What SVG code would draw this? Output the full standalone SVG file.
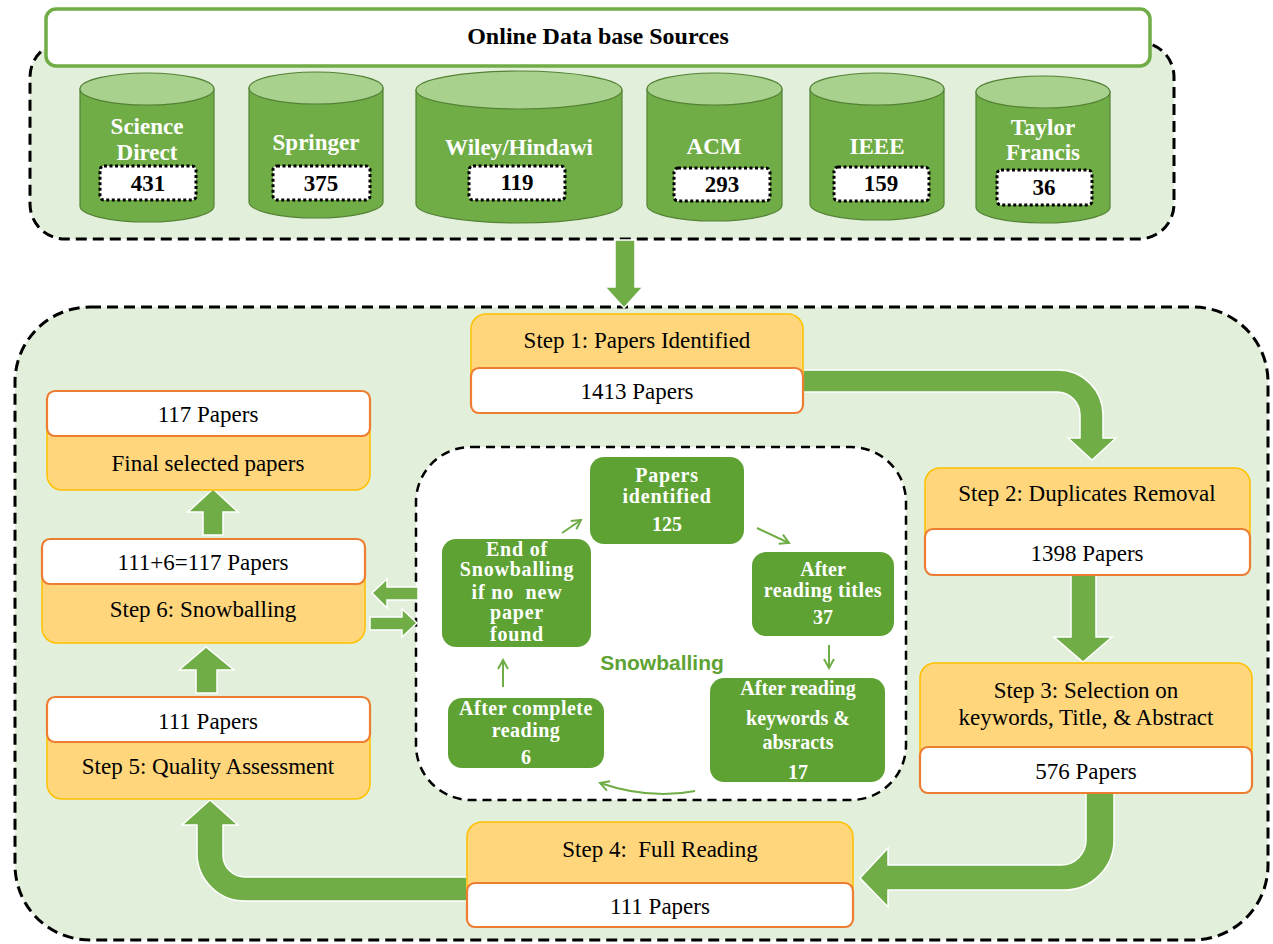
<svg xmlns="http://www.w3.org/2000/svg" width="1273" height="944" viewBox="0 0 1273 944">
<defs>
<style>
.panel{fill:#e2efda;stroke:#000;stroke-width:3;stroke-dasharray:11 6}
.inner{fill:#fff;stroke:#000;stroke-width:2.5;stroke-dasharray:9 6}
.cylb{fill:#70ad47;stroke:#548235;stroke-width:1.2}
.cylt{fill:#a9d18e;stroke:#548235;stroke-width:1.2}
.clab{font-family:"Liberation Serif",serif;font-weight:bold;font-size:23px;fill:#fff;text-anchor:middle}
.numbox{fill:#fff;stroke:#000;stroke-width:3;stroke-dasharray:3 2.5}
.num{font-family:"Liberation Serif",serif;font-weight:bold;font-size:23px;fill:#000;text-anchor:middle}
.yel{fill:#ffd67c;stroke:#ffc000;stroke-width:1.5}
.wht{fill:#fff;stroke:#ed7d31;stroke-width:2.2}
.st{font-family:"Liberation Serif",serif;font-size:23px;fill:#000;text-anchor:middle}
.big{fill:#70ad47;stroke:#fff;stroke-width:1.5}
.sn{fill:#5ea234}
.snt{font-family:"Liberation Serif",serif;font-weight:bold;font-size:20px;fill:#fff;text-anchor:middle}
.thin{fill:none;stroke:#70ad47;stroke-width:2;marker-end:url(#oa)}
</style>
<marker id="oa" viewBox="0 0 12 12" refX="10" refY="6" markerWidth="12" markerHeight="12" markerUnits="userSpaceOnUse" orient="auto">
<path d="M1,1 L10,6 L1,11" fill="none" stroke="#70ad47" stroke-width="2"/>
</marker>
</defs>
<rect width="1273" height="944" fill="#fff"/>

<rect class="panel" x="30" y="42" width="1144" height="197" rx="35"/>
<rect class="panel" x="15" y="307" width="1253" height="633" rx="75"/>
<rect class="inner" x="416" y="447" width="490" height="353" rx="55"/>

<g id="title">
<rect x="46" y="9" width="1104" height="57" rx="10" fill="#fff" stroke="#70ad47" stroke-width="3.5"/>
<text x="598" y="44" font-family="Liberation Serif, serif" font-weight="bold" font-size="24" text-anchor="middle">Online Data base Sources</text>
</g>

<g id="db-sciencedirect">
<path class="cylb" d="M80,89 L80,206 A67,16 0 0 0 214,206 L214,89 Z"/>
<ellipse class="cylt" cx="147" cy="89" rx="67" ry="16"/>
<text class="clab" x="147" y="134">Science</text>
<text class="clab" x="147" y="160">Direct</text>
<rect class="numbox" x="100" y="166" width="96" height="34" rx="4"/>
<text class="num" x="148" y="191">431</text>
</g>
<g id="db-springer">
<path class="cylb" d="M249,88 L249,202 A67,16 0 0 0 383,202 L383,88 Z"/>
<ellipse class="cylt" cx="316" cy="88" rx="67" ry="16"/>
<text class="clab" x="316" y="150">Springer</text>
<rect class="numbox" x="273" y="166" width="97" height="34" rx="4"/>
<text class="num" x="321" y="191">375</text>
</g>
<g id="db-wiley">
<path class="cylb" d="M416,90 L416,204 A103,19 0 0 0 622,204 L622,90 Z"/>
<ellipse class="cylt" cx="519" cy="90" rx="103" ry="19"/>
<text class="clab" x="519" y="155">Wiley/Hindawi</text>
<rect class="numbox" x="469" y="166" width="96" height="34" rx="4"/>
<text class="num" x="517" y="190">119</text>
</g>
<g id="db-acm">
<path class="cylb" d="M647,89 L647,205 A67.5,16 0 0 0 782,205 L782,89 Z"/>
<ellipse class="cylt" cx="714.5" cy="89" rx="67.5" ry="16"/>
<text class="clab" x="714" y="154">ACM</text>
<rect class="numbox" x="674" y="168" width="96" height="33" rx="4"/>
<text class="num" x="722" y="192">293</text>
</g>
<g id="db-ieee">
<path class="cylb" d="M810,89 L810,204 A67,16 0 0 0 944,204 L944,89 Z"/>
<ellipse class="cylt" cx="877" cy="89" rx="67" ry="16"/>
<text class="clab" x="877" y="154">IEEE</text>
<rect class="numbox" x="834" y="167" width="95" height="34" rx="4"/>
<text class="num" x="881" y="191">159</text>
</g>
<g id="db-taylor">
<path class="cylb" d="M976,92 L976,207 A67,16 0 0 0 1110,207 L1110,92 Z"/>
<ellipse class="cylt" cx="1043" cy="92" rx="67" ry="16"/>
<text class="clab" x="1043" y="135">Taylor</text>
<text class="clab" x="1043" y="160">Francis</text>
<rect class="numbox" x="997" y="170" width="95" height="35" rx="4"/>
<text class="num" x="1044" y="195">36</text>
</g>

<g id="connectors">
<path class="big" d="M615,240 L635,240 L635,287 L643,287 L624,308 L605,287 L615,287 Z"/>
<path class="big" d="M803,370 L1058,370 A45,45 0 0 1 1103,415 L1103,438 L1116,438 L1092,460 L1068,438 L1080,438 L1080,415 A23,23 0 0 0 1057,392 L803,392 Z"/>
<path class="big" d="M1071,575 L1096,575 L1096,637 L1112,637 L1083,662 L1054,637 L1071,637 Z"/>
<path class="big" d="M1114,793 L1114,840 A50,50 0 0 1 1064,890 L888,890 L888,907 L860,878 L888,848 L888,865 L1061,865 A25,25 0 0 0 1086,840 L1086,793 Z"/>
<path class="big" d="M467,877 L245,877 A22,22 0 0 1 223,855 L223,825 L238,825 L210,800 L182,825 L197,825 L197,853 A48,48 0 0 0 245,901 L467,901 Z"/>
<path class="big" d="M203,535 L223,535 L223,512 L238,512 L213,489 L188,512 L203,512 Z"/>
<path class="big" d="M196,693 L217,693 L217,670 L234,670 L206,647 L179,670 L196,670 Z"/>
<path class="big" d="M418,587 L387,587 L387,579 L372,593 L387,608 L387,600 L418,600 Z"/>
<path class="big" d="M370,617 L402,617 L402,609 L417,623 L402,637 L402,630 L370,630 Z"/>
<path class="thin" d="M562,533 L581,520"/>
<path class="thin" d="M757,528 L789,543"/>
<path class="thin" d="M829,645 L829,668"/>
<path class="thin" d="M695,791 Q650,800 600,783"/>
<path class="thin" d="M503,687 L503,660"/>
</g>

<g id="step1">
<rect class="yel" x="471" y="314" width="332" height="80" rx="15"/>
<rect class="wht" x="471" y="368" width="332" height="45" rx="8"/>
<text class="st" x="637" y="348">Step 1: Papers Identified</text>
<text class="st" x="637" y="399">1413 Papers</text>
</g>
<g id="step2">
<rect class="yel" x="925" y="468" width="325" height="80" rx="15"/>
<rect class="wht" x="925" y="529" width="325" height="46" rx="8"/>
<text class="st" x="1087" y="501">Step 2: Duplicates Removal</text>
<text class="st" x="1087" y="561">1398 Papers</text>
</g>
<g id="step3">
<rect class="yel" x="920" y="663" width="332" height="110" rx="15"/>
<rect class="wht" x="920" y="747" width="332" height="46" rx="8"/>
<text class="st" x="1086" y="698">Step 3: Selection on</text>
<text class="st" x="1086" y="725">keywords, Title, &amp; Abstract</text>
<text class="st" x="1086" y="779">576 Papers</text>
</g>
<g id="step4">
<rect class="yel" x="467" y="822" width="386" height="80" rx="15"/>
<rect class="wht" x="467" y="883" width="386" height="44" rx="8"/>
<text class="st" x="660" y="857" xml:space="preserve">Step 4:  Full Reading</text>
<text class="st" x="660" y="914">111 Papers</text>
</g>
<g id="step5">
<rect class="yel" x="47" y="710" width="323" height="89" rx="15"/>
<rect class="wht" x="47" y="697" width="323" height="45" rx="8"/>
<text class="st" x="208" y="729">111 Papers</text>
<text class="st" x="208" y="774">Step 5: Quality Assessment</text>
</g>
<g id="step6">
<rect class="yel" x="42" y="552" width="323" height="91" rx="15"/>
<rect class="wht" x="42" y="539" width="323" height="45" rx="8"/>
<text class="st" x="203" y="570">111+6=117 Papers</text>
<text class="st" x="203" y="617">Step 6: Snowballing</text>
</g>
<g id="final">
<rect class="yel" x="47" y="404" width="323" height="86" rx="15"/>
<rect class="wht" x="47" y="391" width="323" height="45" rx="8"/>
<text class="st" x="208" y="422">117 Papers</text>
<text class="st" x="208" y="471">Final selected papers</text>
</g>

<g id="sb-label">
<text x="662" y="670" font-family="Liberation Sans, sans-serif" font-weight="bold" font-size="21" fill="#5ea234" text-anchor="middle">Snowballing</text>
</g>
<g id="sb-identified">
<rect class="sn" x="590" y="457" width="154" height="87" rx="14"/>
<text class="snt" x="667" y="482" font-size="19" letter-spacing="0.8">Papers</text>
<text class="snt" x="667" y="503" font-size="19" letter-spacing="0.8">identified</text>
<text class="snt" x="667" y="531">125</text>
</g>
<g id="sb-titles">
<rect class="sn" x="752" y="552" width="142" height="84" rx="14"/>
<text class="snt" x="823" y="576">After</text>
<text class="snt" x="823" y="597" letter-spacing="0.5">reading titles</text>
<text class="snt" x="823" y="624">37</text>
</g>
<g id="sb-keywords">
<rect class="sn" x="710" y="678" width="175" height="104" rx="14"/>
<text class="snt" x="798" y="695" font-size="22">After reading</text>
<text class="snt" x="798" y="725" font-size="22">keywords &amp;</text>
<text class="snt" x="798" y="749" font-size="22">absracts</text>
<text class="snt" x="798" y="779" font-size="22">17</text>
</g>
<g id="sb-complete">
<rect class="sn" x="448" y="698" width="156" height="70" rx="14"/>
<text class="snt" x="526" y="715" letter-spacing="0.5">After complete</text>
<text class="snt" x="526" y="737" letter-spacing="0.5">reading</text>
<text class="snt" x="526" y="764">6</text>
</g>
<g id="sb-end">
<rect class="sn" x="442" y="539" width="149" height="108" rx="14"/>
<text class="snt" x="517" y="556" font-size="17" letter-spacing="0.8">End of</text>
<text class="snt" x="517" y="576" font-size="17" letter-spacing="0.8">Snowballing</text>
<text class="snt" x="517" y="599" font-size="17" letter-spacing="0.8" xml:space="preserve">if no  new</text>
<text class="snt" x="517" y="619" font-size="17" letter-spacing="0.8">paper</text>
<text class="snt" x="517" y="641" font-size="17" letter-spacing="0.8">found</text>
</g>
</svg>
